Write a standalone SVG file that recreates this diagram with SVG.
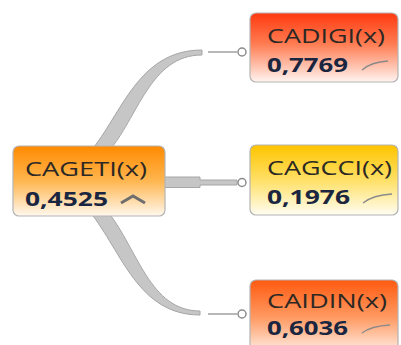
<svg xmlns="http://www.w3.org/2000/svg" width="401" height="345" viewBox="0 0 401 345">
<style>
.box{stroke:#b4b4b4;stroke-width:1.2}
.name{font-family:"Open Sans","Liberation Sans",sans-serif;font-size:20px;fill:#2c2824}
.val{font-family:"Open Sans","Liberation Sans",sans-serif;font-size:20px;font-weight:bold;fill:#1a2640}
.rib{fill:#c6c6c6;stroke:#a6a6a6;stroke-width:1}
.thin{stroke:#b8b8b8;stroke-width:2;fill:none}
.dot{fill:#fff;stroke:#8c8c8c;stroke-width:1.5}
.spark{fill:none;stroke:#8a8a8a;stroke-width:1.3}
</style>
<defs>
<linearGradient id="gRoot" x1="0" y1="0" x2="0" y2="1"><stop offset="0" stop-color="#FF8A00"/><stop offset="0.5" stop-color="#FFB650"/><stop offset="1" stop-color="#FFF8EE"/></linearGradient>
<linearGradient id="gRed" x1="0" y1="0" x2="0" y2="1"><stop offset="0" stop-color="#FF3A10"/><stop offset="0.45" stop-color="#FF7C52"/><stop offset="1" stop-color="#FFF4F0"/></linearGradient>
<linearGradient id="gYel" x1="0" y1="0" x2="0" y2="1"><stop offset="0" stop-color="#FFC400"/><stop offset="0.5" stop-color="#FFE066"/><stop offset="1" stop-color="#FFFDF2"/></linearGradient>
<linearGradient id="gOr" x1="0" y1="0" x2="0" y2="1"><stop offset="0" stop-color="#FF5A10"/><stop offset="0.5" stop-color="#FF9A62"/><stop offset="1" stop-color="#FFF4EE"/></linearGradient>
</defs>
<g id="connectors">
<path class="rib" d="M90,152 C122,114 138,50 202,50 L202,55 C150,55 138,118 108,152 Z"/>
<path class="rib" d="M90,212 C122,252 138,315 200,315 L200,311 C150,311 138,250 108,212 Z"/>
<path class="rib" d="M160,177 L200,177 L200,180 L237,180 L237,185 L200,185 L200,187.5 L160,187.5 Z"/>
<line class="thin" x1="208" y1="52" x2="237" y2="52"/>
<line class="thin" x1="208" y1="314" x2="237" y2="314"/>
<circle class="dot" cx="242" cy="52" r="4"/>
<circle class="dot" cx="242" cy="182.5" r="4"/>
<circle class="dot" cx="242" cy="314" r="4"/>
</g>
<g id="root">
<rect class="box" x="13" y="146" width="152" height="70" rx="6" fill="url(#gRoot)"/>
<text class="name" x="25" y="176" textLength="122" lengthAdjust="spacingAndGlyphs">CAGETI(x)</text>
<text class="val" x="25" y="206" textLength="83" lengthAdjust="spacingAndGlyphs">0,4525</text>
<path d="M121,203 L133,196 L145,203" fill="none" stroke="#6e6e6e" stroke-width="3"/>
</g>
<g id="cadigi">
<rect class="box" x="250" y="13" width="148" height="69" rx="6" fill="url(#gRed)"/>
<text class="name" x="267" y="43" textLength="118" lengthAdjust="spacingAndGlyphs">CADIGI(x)</text>
<text class="val" x="267" y="72" textLength="81" lengthAdjust="spacingAndGlyphs">0,7769</text>
<path class="spark" d="M362,70 Q371,62 388,61"/>
</g>
<g id="cagcci">
<rect class="box" x="250" y="145" width="148" height="70" rx="6" fill="url(#gYel)"/>
<text class="name" x="267" y="175" textLength="125" lengthAdjust="spacingAndGlyphs">CAGCCI(x)</text>
<text class="val" x="267" y="204" textLength="83" lengthAdjust="spacingAndGlyphs">0,1976</text>
<path class="spark" d="M363,203 Q373,195 392,194"/>
</g>
<g id="caidin">
<rect class="box" x="250" y="280" width="148" height="75" rx="6" fill="url(#gOr)"/>
<text class="name" x="267" y="308" textLength="120" lengthAdjust="spacingAndGlyphs">CAIDIN(x)</text>
<text class="val" x="267" y="335" textLength="81" lengthAdjust="spacingAndGlyphs">0,6036</text>
<path class="spark" d="M362,333 Q371,326 390,325"/>
</g>
</svg>
